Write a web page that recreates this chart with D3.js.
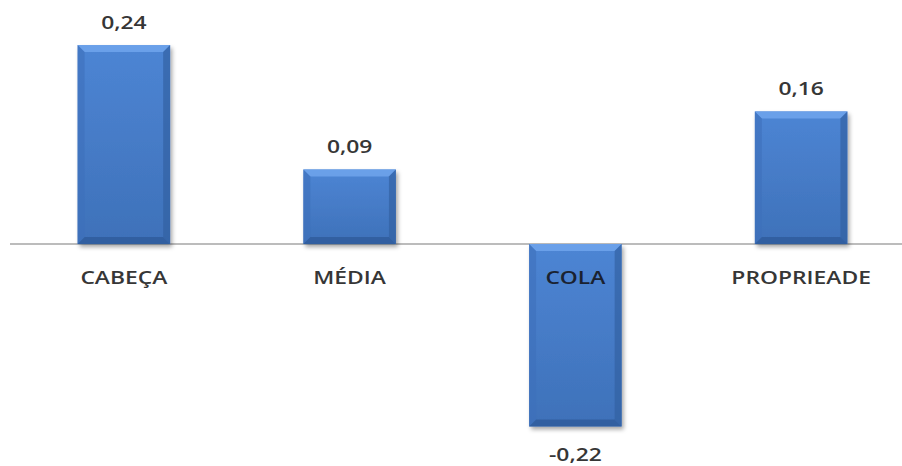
<!DOCTYPE html>
<html>
<head>
<meta charset="utf-8">
<script src="https://cdn.jsdelivr.net/npm/d3@7/dist/d3.min.js"></script>
<style>
  html, body { margin: 0; padding: 0; background: #fff; }
  svg { display: block; }
  text { font-family: "Open Sans", Lato, sans-serif; fill: #363636; }
</style>
</head>
<body>
<script>
// Chart data
const categories = ["CABEÇA", "MÉDIA", "COLA", "PROPRIEADE"];
const values = [0.24, 0.09, -0.22, 0.16];
const valueLabels = ["0,24", "0,09", "-0,22", "0,16"];

const W = 902, H = 466;
const textStretch = 1.27; // labels are set wide
const svg = d3.select("body").append("svg").attr("width", W).attr("height", H);

// scales
const x = d3.scaleBand().domain(categories).range([11, 914])
  .paddingInner(0.59).paddingOuter(0.295);
const y = d3.scaleLinear().domain([-0.25, 0.27]).range([451.3, 20.2]);

const defs = svg.append("defs");
const face = defs.append("linearGradient").attr("id", "face")
  .attr("x1", 0).attr("y1", 0).attr("x2", 0).attr("y2", 1);
face.append("stop").attr("offset", 0).attr("stop-color", "#4d85d4");
face.append("stop").attr("offset", 1).attr("stop-color", "#3e71b9");

const shadow = defs.append("filter").attr("id", "shadow")
  .attr("x", "-20%").attr("y", "-20%").attr("width", "140%").attr("height", "140%");
shadow.append("feDropShadow").attr("dx", 2).attr("dy", 3)
  .attr("stdDeviation", 2.2).attr("flood-color", "#000").attr("flood-opacity", 0.35);

// zero line
svg.append("line")
  .attr("x1", 10).attr("x2", W)
  .attr("y1", y(0)).attr("y2", y(0))
  .attr("stroke", "#a6a6a6").attr("stroke-width", 1.6);

const bev = 7;
const bars = svg.append("g").selectAll("g.bar")
  .data(categories.map((c, i) => ({ c, v: values[i], lab: valueLabels[i] })))
  .join("g").attr("class", "bar");

bars.each(function (d) {
  const g = d3.select(this);
  const x0 = x(d.c), x1 = x0 + x.bandwidth();
  const yt = Math.min(y(d.v), y(0)), yb = Math.max(y(d.v), y(0));
  const gg = g.append("g").attr("filter", "url(#shadow)");
  gg.append("rect").attr("x", x0).attr("y", yt)
    .attr("width", x1 - x0).attr("height", yb - yt).attr("fill", "url(#face)");
  const pts = a => a.map(p => p.join(",")).join(" ");
  // top bevel
  g.append("polygon").attr("points", pts([[x0, yt], [x1, yt], [x1 - bev, yt + bev], [x0 + bev, yt + bev]]))
    .attr("fill", "#70a4ec").attr("opacity", 0.85);
  // left bevel
  g.append("polygon").attr("points", pts([[x0, yt], [x0 + bev, yt + bev], [x0 + bev, yb - bev], [x0, yb]]))
    .attr("fill", "#3d70ba").attr("opacity", 0.6);
  // right bevel
  g.append("polygon").attr("points", pts([[x1, yt], [x1 - bev, yt + bev], [x1 - bev, yb - bev], [x1, yb]]))
    .attr("fill", "#315fa0").attr("opacity", 0.65);
  // bottom bevel
  g.append("polygon").attr("points", pts([[x0, yb], [x0 + bev, yb - bev], [x1 - bev, yb - bev], [x1, yb]]))
    .attr("fill", "#2d5a98").attr("opacity", 0.75);

  // value label
  const cx = x0 + x.bandwidth() / 2;
  const ty = d.v >= 0 ? y(d.v) - 16 : y(d.v) + 35;
  g.append("text")
    .attr("transform", `translate(${cx},${ty}) scale(${textStretch},1)`)
    .attr("text-anchor", "middle").attr("font-size", 18).attr("font-weight", 600)
    .text(d.lab);
});

// category labels
svg.append("g").selectAll("text.cat")
  .data(categories).join("text").attr("class", "cat")
  .attr("transform", d => `translate(${x(d) + x.bandwidth() / 2},${y(0) + 40}) scale(${textStretch},1)`)
  .attr("text-anchor", "middle").attr("font-size", 18).attr("font-weight", 600)
  .style("fill", d => d === "COLA" ? "#1a2230" : "#363636")
  .text(d => d);
</script>
</body>
</html>
